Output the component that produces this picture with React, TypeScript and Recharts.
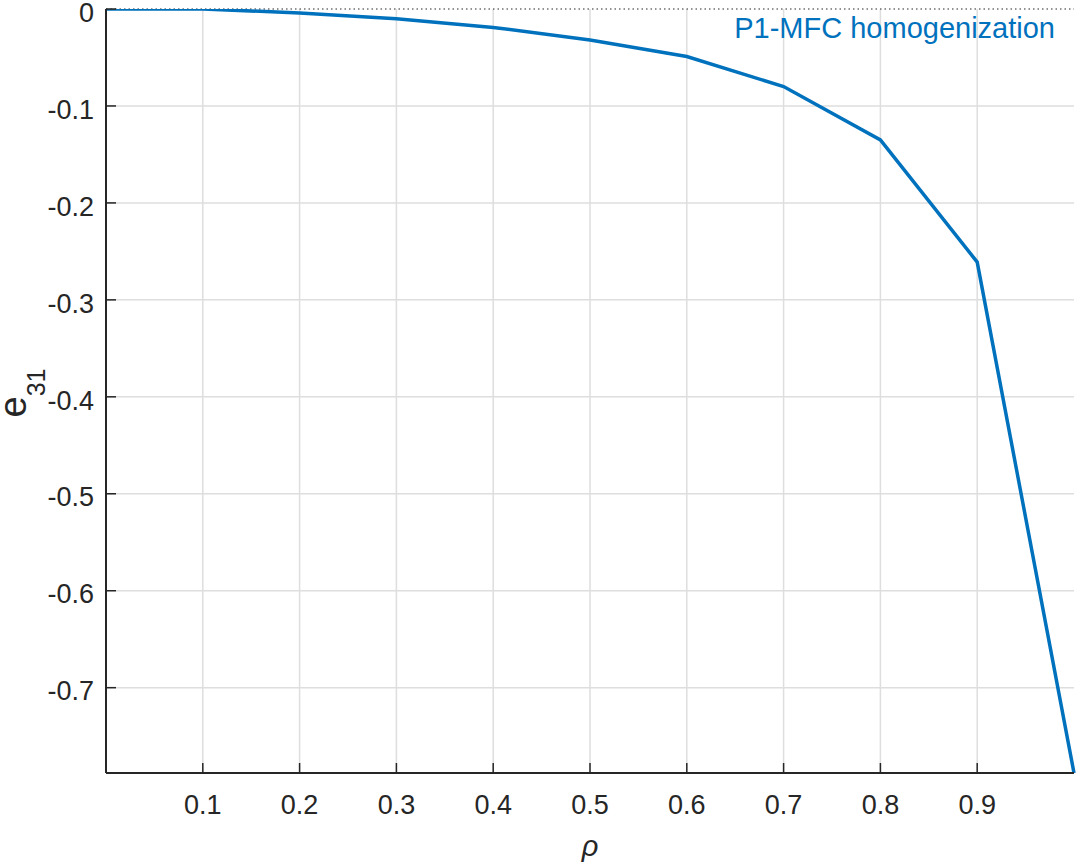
import React from 'react';
import {
  LineChart,
  Line,
  XAxis,
  YAxis,
  CartesianGrid,
  ReferenceLine,
} from 'recharts';

// volume fraction rho vs effective e31
const rho = [0, 0.1, 0.2, 0.3, 0.4, 0.5, 0.6, 0.7, 0.8, 0.9, 1.0];
const e31 = [0, 0, -0.004, -0.01, -0.019, -0.032, -0.049, -0.08, -0.135, -0.261, -0.788];

const xTicks = [0.1, 0.2, 0.3, 0.4, 0.5, 0.6, 0.7, 0.8, 0.9];
const yTicks = [0, -0.1, -0.2, -0.3, -0.4, -0.5, -0.6, -0.7];
const yGridTicks = [-0.1, -0.2, -0.3, -0.4, -0.5, -0.6, -0.7];
const yDomain = [-0.788, 0];

const seriesName = 'P1-MFC homogenization';

const FONT = '"Liberation Sans", Arial, Helvetica, sans-serif';
const TEXT = '#262626';
const BLUE = '#0072BD';

const chartData = rho.map((r, i) => ({ rho: r, e31: e31[i] }));

const XTick = (props: any) => {
  const { x, y, payload } = props;
  return (
    <g>
      <line x1={x} x2={x} y1={y - 10} y2={y} stroke={TEXT} strokeWidth={1.5} />
      <text x={x} y={y + 41} textAnchor="middle" fill={TEXT} fontSize={27} fontFamily={FONT}>
        {payload.value}
      </text>
    </g>
  );
};

const YTick = (props: any) => {
  const { x, y, payload } = props;
  return (
    <g>
      <line x1={x + 12} x2={x + 22} y1={y} y2={y} stroke={TEXT} strokeWidth={1.5} />
      <text x={x} y={y} dy="0.47em" textAnchor="end" fill={TEXT} fontSize={27} fontFamily={FONT}>
        {payload.value}
      </text>
    </g>
  );
};

// rotated y label: e with subscript 31
const YLabel = () => {
  const cx = 26;
  const cy = 393;
  return (
    <text
      x={cx}
      y={cy}
      transform={`rotate(-90, ${cx}, ${cy})`}
      textAnchor="middle"
      fill={TEXT}
      fontSize={38}
      fontFamily={FONT}
    >
      e<tspan fontSize={25} dy={19}>31</tspan>
    </text>
  );
};

const App: React.FC = () => {
  return (
    <div style={{ position: 'absolute', left: 0, top: 0, width: 1076, height: 863, background: '#fff' }}>
      <LineChart
        width={1076}
        height={863}
        data={chartData}
        margin={{ top: 9, right: 2, bottom: 0, left: 0 }}
      >
        <CartesianGrid
          stroke="#dedede"
          strokeWidth={1.5}
          horizontalValues={yGridTicks}
          verticalValues={xTicks}
        />
        <XAxis
          dataKey="rho"
          type="number"
          domain={[0, 1]}
          ticks={xTicks}
          height={90}
          tickSize={0}
          tickMargin={0}
          tickLine={false}
          axisLine={{ stroke: TEXT, strokeWidth: 2 }}
          tick={<XTick />}
          interval={0}
          label={{
            value: 'ρ',
            position: 'insideBottom',
            offset: 7,
            fill: TEXT,
            fontSize: 29,
            fontStyle: 'italic',
            fontFamily: FONT,
          }}
        />
        <YAxis
          type="number"
          domain={yDomain}
          allowDataOverflow
          ticks={yTicks}
          width={106}
          tickSize={0}
          tickMargin={12}
          tickLine={false}
          axisLine={{ stroke: TEXT, strokeWidth: 2 }}
          tick={<YTick />}
          interval={0}
          label={<YLabel />}
        />
        <ReferenceLine y={0} stroke={TEXT} strokeWidth={1} strokeDasharray="1.5 3" />
        <Line
          type="linear"
          dataKey="e31"
          name={seriesName}
          stroke={BLUE}
          strokeWidth={3.5}
          dot={false}
          isAnimationActive={false}
        />
      </LineChart>
      <div
        style={{
          position: 'absolute',
          right: 21,
          top: 14,
          fontFamily: FONT,
          fontSize: 29,
          lineHeight: 1,
          color: BLUE,
          whiteSpace: 'nowrap',
        }}
      >
        {seriesName}
      </div>
    </div>
  );
};

export default App;
